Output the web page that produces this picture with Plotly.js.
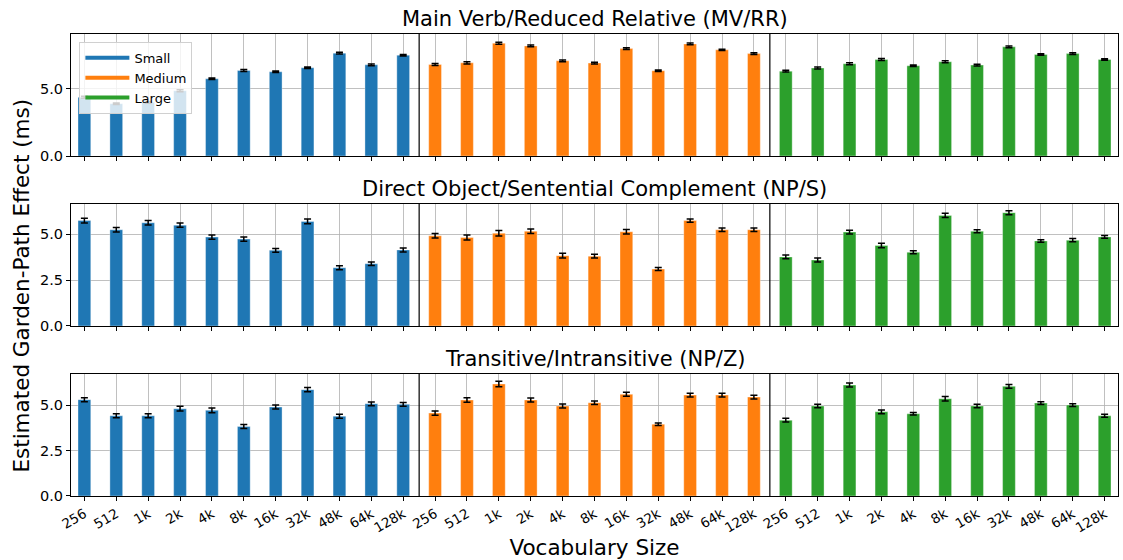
<!DOCTYPE html>
<html>
<head>
<meta charset="utf-8">
<script src="https://cdn.plot.ly/plotly-3.0.1.min.js"></script>
<style>html,body{margin:0;padding:0;background:#fff;}#chart{width:1123px;height:560px;}</style>
</head>
<body>
<div id="chart"></div>
<script>
const vocab = ['256','512','1k','2k','4k','8k','16k','32k','48k','64k','128k'];
const sizes = ['Small','Medium','Large'];
const colors = ['#1f77b4','#ff7f0e','#2ca02c'];
const panelTitles = ['Main Verb/Reduced Relative (MV/RR)','Direct Object/Sentential Complement (NP/S)','Transitive/Intransitive (NP/Z)'];

// MV/RR
const mvrr_small  = [4.38,3.90,4.00,4.87,5.76,6.38,6.28,6.58,7.67,6.80,7.52];
const mvrr_medium = [6.83,6.95,8.41,8.21,7.10,6.93,8.01,6.36,8.36,7.92,7.64];
const mvrr_large  = [6.33,6.56,6.88,7.20,6.73,7.03,6.78,8.14,7.57,7.64,7.20];
const mvrr_small_err  = [0.07,0.06,0.07,0.07,0.06,0.07,0.06,0.06,0.07,0.06,0.06];
const mvrr_medium_err = [0.07,0.08,0.08,0.07,0.07,0.06,0.07,0.05,0.07,0.05,0.06];
const mvrr_large_err  = [0.07,0.07,0.07,0.07,0.06,0.07,0.06,0.06,0.05,0.06,0.05];
// NP/S
const nps_small  = [5.74,5.24,5.62,5.49,4.84,4.73,4.12,5.69,3.17,3.39,4.14];
const nps_medium = [4.91,4.82,5.05,5.16,3.83,3.80,5.13,3.10,5.74,5.24,5.24];
const nps_large  = [3.76,3.59,5.11,4.38,4.01,6.02,5.16,6.17,4.63,4.67,4.85];
const nps_small_err  = [0.13,0.12,0.12,0.12,0.12,0.12,0.10,0.13,0.11,0.10,0.11];
const nps_medium_err = [0.12,0.14,0.15,0.12,0.13,0.10,0.12,0.08,0.09,0.09,0.10];
const nps_large_err  = [0.10,0.11,0.10,0.12,0.08,0.12,0.08,0.11,0.07,0.09,0.08];
// NP/Z
const npz_small  = [5.30,4.41,4.41,4.80,4.71,3.82,4.89,5.85,4.39,5.07,5.04];
const npz_medium = [4.56,5.28,6.16,5.28,4.95,5.13,5.59,3.95,5.55,5.55,5.44];
const npz_large  = [4.17,4.95,6.10,4.63,4.52,5.35,4.95,6.03,5.11,5.00,4.41];
const npz_small_err  = [0.11,0.11,0.11,0.13,0.13,0.11,0.11,0.12,0.11,0.10,0.10];
const npz_medium_err = [0.12,0.12,0.15,0.11,0.11,0.10,0.11,0.07,0.10,0.10,0.10];
const npz_large_err  = [0.10,0.10,0.11,0.10,0.07,0.12,0.10,0.10,0.08,0.08,0.08];

const panels = [
  [[mvrr_small,mvrr_small_err],[mvrr_medium,mvrr_medium_err],[mvrr_large,mvrr_large_err]],
  [[nps_small,nps_small_err],[nps_medium,nps_medium_err],[nps_large,nps_large_err]],
  [[npz_small,npz_small_err],[npz_medium,npz_medium_err],[npz_large,npz_large_err]]
];

const n = vocab.length;
const traces = [];
panels.forEach((panel, p) => {
  const ax = p === 0 ? '' : String(p + 1);
  panel.forEach((series, g) => {
    traces.push({
      type: 'bar',
      x: vocab.map((_, i) => g * n + i),
      y: series[0],
      width: 0.4,
      marker: {color: colors[g], line: {width: 1, color: 'rgba(255,255,255,0.35)'}},
      error_y: {type: 'data', array: series[1], visible: true, color: '#000', thickness: 1.5, width: 3.5},
      xaxis: 'x' + ax, yaxis: 'y' + ax,
      showlegend: false, hoverinfo: 'y'
    });
  });
});
sizes.forEach((s, g) => {
  traces.push({type: 'scatter', mode: 'lines', x: [null], y: [null], name: s,
    line: {color: colors[g], width: 4}, xaxis: 'x', yaxis: 'y', showlegend: true});
});

const tickvals = [], ticktext = [];
for (let g = 0; g < sizes.length; g++) vocab.forEach((v, i) => { tickvals.push(g * n + i); ticktext.push(v); });

const font = {family: 'DejaVu Sans, sans-serif', color: '#000'};
const doms = [[0.7359, 1], [0.368, 0.632], [0, 0.2641]];
const xrange = [-0.42, sizes.length * n - 1 + 0.42];
const layout = {
  width: 1123, height: 560,
  margin: {l: 71, r: 5, t: 34, b: 64},
  paper_bgcolor: '#fff', plot_bgcolor: '#fff',
  font: font,
  bargap: 0,
  legend: {x: 0.008, y: 0.983, xanchor: 'left', yanchor: 'top',
    bgcolor: 'rgba(255,255,255,0.8)', bordercolor: '#d0d0d0', borderwidth: 1,
    font: {family: 'DejaVu Sans, sans-serif', size: 13}, tracegroupgap: 0, itemwidth: 44},
  shapes: [], annotations: []
};
const yMax = [9.1, 6.64, 6.71];
const yDt = [5, 2.5, 2.5];
for (let p = 0; p < 3; p++) {
  const ax = p === 0 ? '' : String(p + 1);
  layout['xaxis' + ax] = {
    domain: [0, 1], anchor: 'y' + ax, range: xrange,
    tickmode: 'array', tickvals: tickvals, ticktext: ticktext,
    showticklabels: p === 2, tickangle: -30, tickfont: {size: 13.5, family: font.family},
    ticks: 'outside', ticklen: 4, tickcolor: '#000',
    showgrid: true, gridcolor: '#b0b0b0', gridwidth: 0.8,
    showline: true, linecolor: '#000', linewidth: 1, mirror: true, zeroline: false,
    title: p === 2 ? {text: 'Vocabulary Size', font: {size: 21.5}, standoff: 6} : {text: ''}
  };
  layout['yaxis' + ax] = {
    domain: doms[p], anchor: 'x' + ax, range: [0, yMax[p]],
    dtick: yDt[p], tick0: 0, tickformat: '.1f', tickfont: {size: 14.5, family: font.family},
    ticks: 'outside', ticklen: 4, tickcolor: '#000',
    showgrid: true, gridcolor: '#b0b0b0', gridwidth: 0.8,
    showline: true, linecolor: '#000', linewidth: 1, mirror: true, zeroline: false
  };
  [n - 0.5, 2 * n - 0.5].forEach(xv => {
    layout.shapes.push({type: 'line', xref: 'x' + ax, yref: 'y' + ax + ' domain', x0: xv, x1: xv, y0: 0, y1: 1,
      line: {color: '#000', width: 1.2}});
  });
  layout.annotations.push({text: panelTitles[p], xref: 'paper', yref: 'paper', x: 0.5, y: doms[p][1],
    xanchor: 'center', yanchor: 'bottom', yshift: 1, showarrow: false, font: {size: 21, family: font.family}});
}
layout.annotations.push({text: 'Estimated Garden-Path Effect (ms)', xref: 'paper', yref: 'paper',
  x: -0.047, y: 0.455, xanchor: 'center', yanchor: 'middle', textangle: -90, showarrow: false,
  font: {size: 21.5, family: font.family}});

Plotly.newPlot('chart', traces, layout, {displayModeBar: false, staticPlot: true});
</script>
</body>
</html>
